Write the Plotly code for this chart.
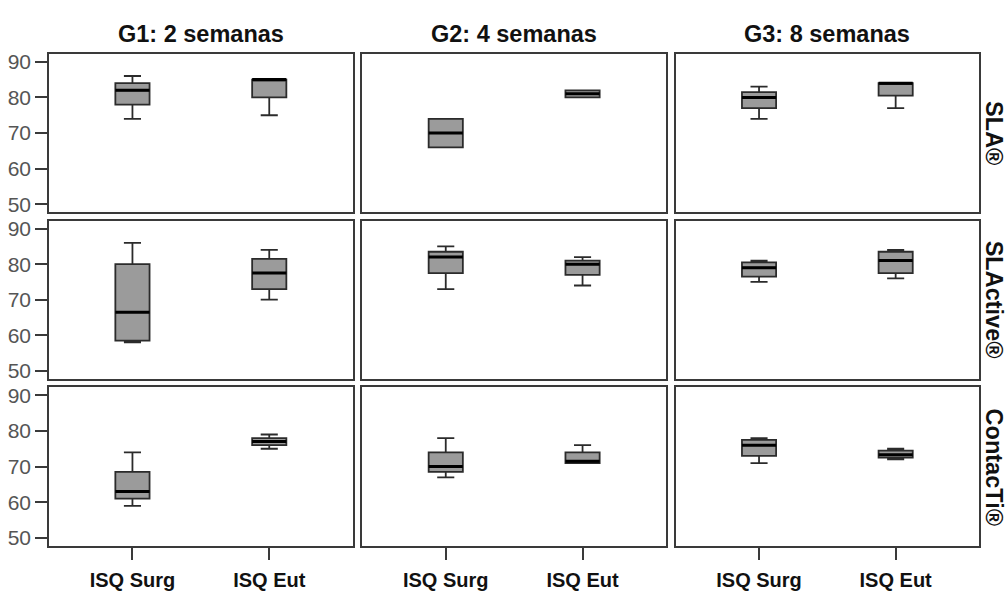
import plotly.graph_objects as go

groups = ["G1: 2 semanas", "G2: 4 semanas", "G3: 8 semanas"]
implants = ["SLA®", "SLActive®", "ContacTi®"]
measures = ["ISQ Surg", "ISQ Eut"]

# values indexed [implant row][group column][measure]
lower = [[[74, 75], [66, 80], [74, 77]],
         [[58, 70], [73, 74], [75, 76]],
         [[59, 75], [67, 71], [71, 72]]]
q1 = [[[78, 80], [66, 80], [77, 80.5]],
      [[58.5, 73], [77.5, 77], [76.5, 77.5]],
      [[61, 76], [68.5, 71], [73, 72.5]]]
median = [[[82, 85], [70, 81], [80, 84]],
          [[66.5, 77.5], [82, 80], [79, 81]],
          [[63, 77], [70, 71.5], [76, 73.3]]]
q3 = [[[84, 85], [74, 82], [81.5, 84]],
      [[80, 81.5], [83.5, 81], [80.5, 83.5]],
      [[68.5, 78], [74, 74], [77.5, 74.5]]]
upper = [[[86, 85], [74, 82], [83, 84]],
         [[86, 84], [85, 82], [81, 84]],
         [[74, 79], [78, 76], [78, 75]]]

yticks = [50, 60, 70, 80, 90]

W, H = 1008, 591
xdom = [(49, 352.7), (362.3, 666), (675.7, 979)]
ydom = [(51, 213), (221.7, 383), (392, 554)]

fig = go.Figure()
FONT = "Arial, Liberation Sans, sans-serif"
FRAME = "#3a3a3a"

for r in range(3):
    for c in range(3):
        idx = r * 3 + c + 1
        xa = "x" if idx == 1 else f"x{idx}"
        ya = "y" if idx == 1 else f"y{idx}"
        fig.add_trace(go.Box(
            x=measures,
            lowerfence=lower[r][c], q1=q1[r][c], median=median[r][c],
            q3=q3[r][c], upperfence=upper[r][c],
            fillcolor="#9b9b9b", line=dict(color="#2b2b2b", width=1.8),
            width=0.25, whiskerwidth=0.5, boxpoints=False,
            xaxis=xa, yaxis=ya, showlegend=False, hoverinfo="skip"))
        # thick median line overlay
        fig.add_trace(go.Box(
            x=measures,
            lowerfence=median[r][c], q1=median[r][c], median=median[r][c],
            q3=median[r][c], upperfence=median[r][c],
            fillcolor="rgba(0,0,0,0)", line=dict(color="#000000", width=3),
            width=0.25, whiskerwidth=0, boxpoints=False,
            xaxis=xa, yaxis=ya, showlegend=False, hoverinfo="skip"))
        xk = "xaxis" if idx == 1 else f"xaxis{idx}"
        yk = "yaxis" if idx == 1 else f"yaxis{idx}"
        x0, x1 = xdom[c]
        y0, y1 = ydom[r]
        fig.layout[xk] = dict(
            domain=[x0 / W, x1 / W], anchor=ya, type="category",
            categoryorder="array", categoryarray=measures,
            range=[-0.61, 1.61], showgrid=False, zeroline=False,
            showline=True, linecolor=FRAME, linewidth=1.6, mirror=True,
            ticks="outside" if r == 2 else "", ticklen=12, tickwidth=1.6,
            tickcolor=FRAME, showticklabels=(r == 2),
            ticklabelstandoff=3,
            tickfont=dict(family=FONT, size=20, color="#111111",
                          weight="bold"))
        fig.layout[yk] = dict(
            domain=[1 - y1 / H, 1 - y0 / H], anchor=xa,
            range=[47.8, 92.2], showgrid=False, zeroline=False,
            showline=True, linecolor=FRAME, linewidth=1.6, mirror=True,
            tickvals=yticks, ticks="outside" if c == 0 else "",
            ticklen=12, tickwidth=1.6, tickcolor=FRAME,
            showticklabels=(c == 0),
            tickfont=dict(family=FONT, size=21, color="#555555"))

annotations = []
for c, g in enumerate(groups):
    x0, x1 = xdom[c]
    annotations.append(dict(
        text=f"<b>{g}</b>", x=(x0 + x1) / 2 / W, y=1 - 31 / H,
        xref="paper", yref="paper", xanchor="center", yanchor="middle",
        showarrow=False, font=dict(family=FONT, size=23.5, color="#111111")))
for r, name in enumerate(implants):
    y0, y1 = ydom[r]
    annotations.append(dict(
        text=f"<b>{name}</b>", x=994 / W, y=1 - (y0 + y1) / 2 / H,
        xref="paper", yref="paper", xanchor="center", yanchor="middle",
        textangle=90, showarrow=False,
        font=dict(family=FONT, size=23.5, color="#111111")))

fig.update_layout(
    width=W, height=H, margin=dict(l=0, r=0, t=0, b=0),
    paper_bgcolor="white", plot_bgcolor="white",
    boxmode="overlay", annotations=annotations)

fig.write_html("out.html", config={"displayModeBar": False},
               post_script="document.body.style.margin='0';"
                           "document.body.style.overflow='hidden';")
